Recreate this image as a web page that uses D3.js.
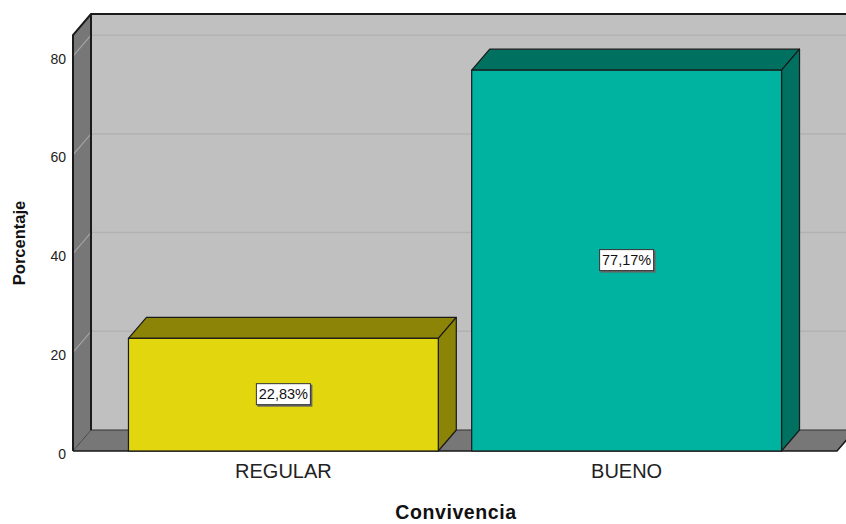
<!DOCTYPE html>
<html>
<head>
<meta charset="utf-8">
<script src="https://cdn.jsdelivr.net/npm/d3@7"></script>
<style>
  html, body { margin: 0; padding: 0; background: #fff; }
  svg { display: block; font-family: "Liberation Sans", Arial, sans-serif; }
</style>
</head>
<body>
<svg id="chart" width="846" height="524"></svg>
<script>
const categories = ["REGULAR", "BUENO"];
const percentages = [22.83, 77.17];
const valueLabels = ["22,83%", "77,17%"];
const tickValues = [0, 20, 40, 60, 80];
const frontColors = ["#e2d70f", "#00b3a0"];
const sideColors = ["#8b8407", "#007060"];

const W = 846, H = 524;
const svg = d3.select("#chart");

const dx = 18, dy = -21;
const x0 = 73, x1 = 837;
const y = d3.scaleLinear().domain([0, 84.3]).range([451, 35]);
const x = d3.scaleBand().domain(categories).range([x0, x1])
  .paddingInner(0.0973).paddingOuter(0.1616);

const poly = pts => pts.map(p => p.join(",")).join(" ");
const yTop = y(84.3), y0 = y(0);

// back wall
svg.append("polygon")
  .attr("points", poly([[x0+dx, yTop+dy], [x1+dx+20, yTop+dy], [x1+dx+20, y0+dy], [x0+dx, y0+dy]]))
  .attr("fill", "#c0c0c0");

// back wall gridlines
svg.selectAll("line.grid").data(tickValues.filter(v => v > 0)).join("line")
  .attr("class", "grid")
  .attr("x1", x0+dx).attr("x2", x1+dx+20)
  .attr("y1", d => y(d)+dy).attr("y2", d => y(d)+dy)
  .attr("stroke", "#b2b2b2").attr("stroke-width", 1.5);

// left wall
svg.append("polygon")
  .attr("points", poly([[x0, y0], [x0, yTop], [x0+dx, yTop+dy], [x0+dx, y0+dy]]))
  .attr("fill", "#777777");
svg.selectAll("line.sgrid").data(tickValues.filter(v => v > 0)).join("line")
  .attr("class", "sgrid")
  .attr("x1", x0).attr("x2", x0+dx)
  .attr("y1", d => y(d)).attr("y2", d => y(d)+dy)
  .attr("stroke", "#a4a4a4").attr("stroke-width", 1.2);

// floor
svg.append("polygon")
  .attr("points", poly([[x0, y0], [x1, y0], [x1+dx, y0+dy], [x0+dx, y0+dy]]))
  .attr("fill", "#777777");
svg.append("line")
  .attr("x1", x0+dx).attr("x2", x1+dx+20).attr("y1", y0+dy).attr("y2", y0+dy)
  .attr("stroke", "#333").attr("stroke-width", 1);

// wall outlines
const outline = svg.append("g").attr("fill", "none").attr("stroke", "#1a1a1a").attr("stroke-width", 2);
outline.append("polyline").attr("points", poly([[x0, y0], [x0, yTop], [x0+dx, yTop+dy], [x1+dx+20, yTop+dy]]));
outline.append("line").attr("x1", x0+dx).attr("x2", x0+dx).attr("y1", yTop+dy).attr("y2", y0+dy);
outline.append("line").attr("x1", x0+dx).attr("x2", x0).attr("y1", y0+dy).attr("y2", y0).attr("stroke-width", 1).attr("stroke", "#444");
outline.append("polyline").attr("points", poly([[x0, y0], [x1, y0], [x1+dx, y0+dy]])).attr("stroke-width", 1.5);

// bars
const data = categories.map((c, i) => ({ c, v: percentages[i], i }));
const bars = svg.selectAll("g.bar").data(data).join("g").attr("class", "bar");
bars.append("polygon") // top
  .attr("points", d => { const l = x(d.c), r = l + x.bandwidth(), t = y(d.v);
    return poly([[l, t], [l+dx, t+dy], [r+dx, t+dy], [r, t]]); })
  .attr("fill", d => sideColors[d.i]).attr("stroke", "#1a1a1a").attr("stroke-width", 1.2)
  .attr("stroke-linejoin", "round");
bars.append("polygon") // side
  .attr("points", d => { const r = x(d.c) + x.bandwidth(), t = y(d.v);
    return poly([[r, t], [r+dx, t+dy], [r+dx, y0+dy], [r, y0]]); })
  .attr("fill", d => sideColors[d.i]).attr("stroke", "#1a1a1a").attr("stroke-width", 1.2)
  .attr("stroke-linejoin", "round");
bars.append("rect") // front
  .attr("x", d => x(d.c)).attr("y", d => y(d.v))
  .attr("width", x.bandwidth()).attr("height", d => y0 - y(d.v))
  .attr("fill", d => frontColors[d.i]).attr("stroke", "#1a1a1a").attr("stroke-width", 1.2);

// value labels
const lab = svg.selectAll("g.vlab").data(data).join("g").attr("class", "vlab")
  .attr("transform", d => `translate(${x(d.c) + x.bandwidth()/2},${(y(d.v) + y0)/2})`);
lab.append("rect").attr("x", -26).attr("y", -10).attr("width", 55).attr("height", 22).attr("fill", "#666");
lab.append("rect").attr("x", -27).attr("y", -11).attr("width", 54).attr("height", 21)
  .attr("fill", "#fff").attr("stroke", "#333").attr("stroke-width", 1);
lab.append("text").text((d) => valueLabels[d.i])
  .attr("text-anchor", "middle").attr("dy", "0.35em").attr("y", -0.5)
  .attr("font-size", 14.5).attr("fill", "#111");

// y axis
const yAxis = svg.append("g").attr("transform", `translate(${x0},0)`)
  .call(d3.axisLeft(y).tickValues(tickValues).tickSize(0).tickPadding(7));
yAxis.select(".domain").remove();
yAxis.selectAll("text").attr("font-size", 14).attr("fill", "#222")
  .attr("font-family", "Liberation Sans, Arial, sans-serif").attr("dy", "0.5em");

// x axis labels
const xAxis = svg.append("g").attr("transform", `translate(0,${y0})`)
  .call(d3.axisBottom(x).tickSize(0).tickPadding(8));
xAxis.select(".domain").remove();
xAxis.selectAll("text").attr("font-size", 20).attr("fill", "#222")
  .attr("font-family", "Liberation Sans, Arial, sans-serif").attr("dy", "0.95em");

// titles
svg.append("text").text("Convivencia")
  .attr("x", 456).attr("y", 519).attr("text-anchor", "middle")
  .attr("font-size", 19.5).attr("letter-spacing", 0.6)
  .attr("font-weight", "bold").attr("fill", "#111");
svg.append("text").text("Porcentaje")
  .attr("transform", "translate(25,243) rotate(-90)").attr("text-anchor", "middle")
  .attr("font-size", 16.5).attr("font-weight", "bold").attr("fill", "#111");
</script>
</body>
</html>
